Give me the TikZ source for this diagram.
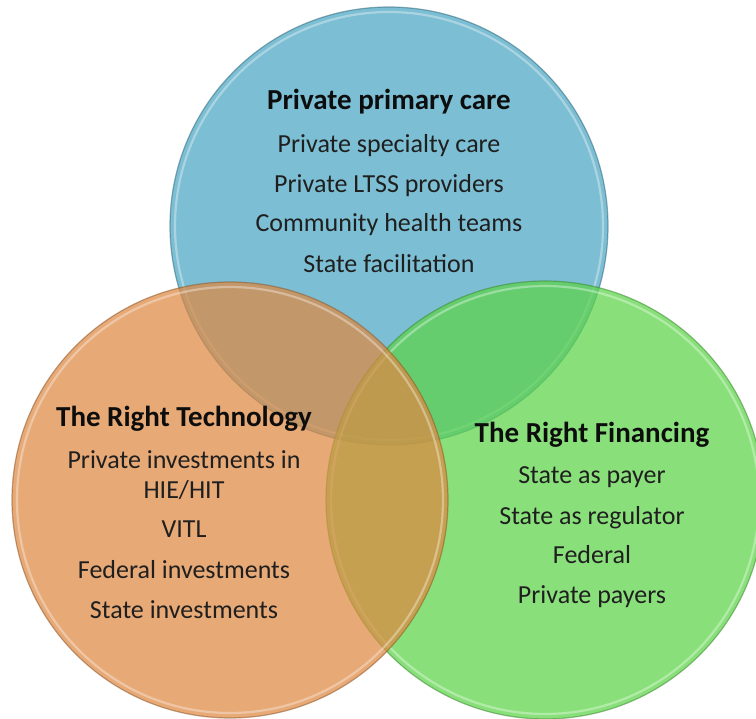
\documentclass[tikz,border=0pt]{standalone}
\usepackage{fontspec}
\setmainfont{Carlito}
\definecolor{carefill}{RGB}{74,165,194}
\definecolor{finfill}{RGB}{92,212,72}
\definecolor{techfill}{RGB}{222,136,65}
\begin{document}
\begin{tikzpicture}[x=1pt,y=-1pt,
  disc/.style={circle, minimum size=#1, inner sep=0pt, draw=none, fill opacity=0.72},
  rimdark/.style={draw=#1!65!black, draw opacity=0.55, line width=1.2pt},
  rimlight/.style={draw=white, draw opacity=0.35, line width=2.2pt},
  body/.style={font=\fontsize{26}{30}\selectfont, text=black!88, inner sep=0pt, anchor=base},
  head/.style={body, font=\fontsize{29}{32}\selectfont\bfseries, text=black!95},
]
\useasboundingbox (0,0) rectangle (756,719);

% the three discs: blue first, green over it, orange on top
\node[disc=438pt, fill=carefill] (care) at (389,226) {};
\draw[rimdark=carefill] (care.center) circle (219);
\draw[rimlight] (care.center) circle (214);

\node[disc=438pt, fill=finfill] (fin) at (545,500) {};
\draw[rimdark=finfill] (fin.center) circle (219);
\draw[rimlight] (fin.center) circle (214);

\node[disc=436pt, fill=techfill] (tech) at (230,500) {};
\draw[rimdark=techfill] (tech.center) circle (218);
\draw[rimlight] (tech.center) circle (213);

% care circle
\node[head] (careh) at (389,110) {Private primary care};
\node[body] (care1) at (389,153) {Private specialty care};
\node[body] (care2) at (389,193) {Private LTSS providers};
\node[body] (care3) at (389,232) {Community health teams};
\node[body] (care4) at (389,273) {State facilitation};

% technology circle
\node[head] (techh)  at (184,427) {The Right Technology};
\node[body] (tech1a) at (184,469) {Private investments in};
\node[body] (tech1b) at (184,499) {HIE/HIT};
\node[body] (tech2)  at (184,538) {VITL};
\node[body] (tech3)  at (184,579) {Federal investments};
\node[body] (tech4)  at (184,618) {State investments};

% financing circle
\node[head] (finh) at (592,443) {The Right Financing};
\node[body] (fin1) at (592,484) {State as payer};
\node[body] (fin2) at (592,525) {State as regulator};
\node[body] (fin3) at (592,563) {Federal};
\node[body] (fin4) at (592,603) {Private payers};
\end{tikzpicture}
\end{document}
